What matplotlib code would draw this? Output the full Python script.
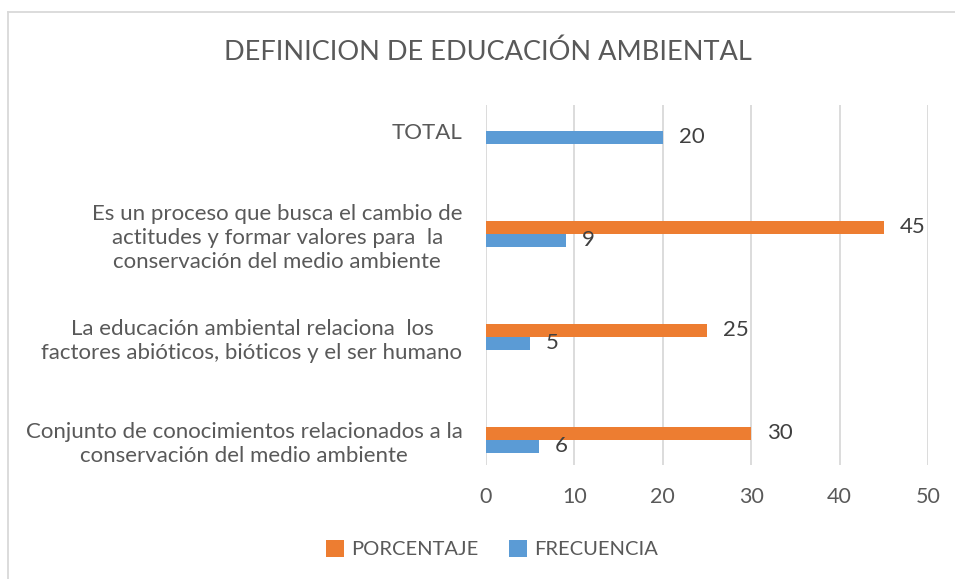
import matplotlib.pyplot as plt
from matplotlib.lines import Line2D
import numpy as np

plt.rcParams['font.family'] = ['Lato', 'DejaVu Sans']

## Data (bottom to top)
categories = [
    'Conjunto de conocimientos relacionados a la\nconservación del medio ambiente',
    'La educación ambiental relaciona  los\nfactores abióticos, bióticos y el ser humano',
    'Es un proceso que busca el cambio de\nactitudes y formar valores para  la\nconservación del medio ambiente',
    'TOTAL',
]
frecuencia = [6, 5, 9, 20]
porcentaje = [30, 25, 45, None]

c_orange = '#ED7D31'
c_blue = '#5B9BD5'
c_text = '#595959'

fig = plt.figure(figsize=(9.55, 5.79), dpi=100)
ax = fig.add_axes([486/955, 1 - 465/579, (928 - 486)/955, (465 - 105)/579])

y = np.arange(len(categories))
h = 0.126
por_vals = [v if v is not None else 0 for v in porcentaje]
bars_p = ax.barh(y + h/2, por_vals, height=h, color=c_orange, label='PORCENTAJE', zorder=3)
bars_f = ax.barh(y - h/2, frecuencia, height=h, color=c_blue, label='FRECUENCIA', zorder=3)

## Data labels
for b, v in zip(bars_p, porcentaje):
    if v is not None:
        ax.text(b.get_width() + 1.8, b.get_y() + b.get_height()/2, str(v),
                va='center', ha='left', fontsize=16, color='#404040')
for b, v in zip(bars_f, frecuencia):
    ax.text(b.get_width() + 1.8, b.get_y() + b.get_height()/2, str(v),
            va='center', ha='left', fontsize=16, color='#404040')

ax.set_xlim(0, 50)
ax.set_ylim(-0.243, 3.25)
ax.set_xticks(range(0, 51, 10))
ax.set_yticks(y)
ax.set_yticklabels(categories, multialignment='center', fontsize=16,
                   color=c_text, linespacing=1.25)
ax.tick_params(axis='x', labelsize=15.5, labelcolor=c_text, length=0, pad=16)
ax.tick_params(axis='y', length=0, pad=17)
ax.grid(axis='x', color='#D9D9D9', linewidth=1.3, zorder=0)
for s in ax.spines.values():
    s.set_visible(False)

## Title
fig.text(488/955, 1 - 52/579, 'DEFINICION DE EDUCACIÓN AMBIENTAL',
         ha='center', va='center', fontsize=19.5, color=c_text)

## Legend
fig.legend(handles=[bars_p, bars_f], labels=['PORCENTAJE', 'FRECUENCIA'],
           loc='center', bbox_to_anchor=(492/955, 1 - 549/579), ncol=2,
           frameon=False, fontsize=14.5, handlelength=0.9, handleheight=0.9,
           handletextpad=0.35, columnspacing=1.5, labelcolor=c_text)

## Chart border
fig.add_artist(Line2D([8/955, 8/955], [0, 1 - 12/579], color='#D9D9D9', linewidth=1.3))
fig.add_artist(Line2D([8/955, 1], [1 - 12/579, 1 - 12/579], color='#D9D9D9', linewidth=1.3))

plt.savefig('out.png', dpi=100)
